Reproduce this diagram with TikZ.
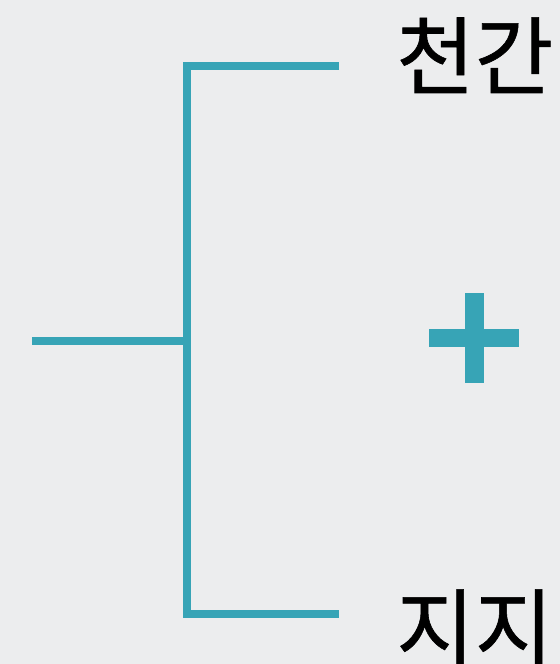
\documentclass[tikz,border=0pt]{standalone}
\usepackage{fontspec}
\newfontfamily\krfont[FakeBold=0.7]{Noto Sans CJK KR}
\definecolor{paper}{RGB}{236,237,238}
\definecolor{tealline}{RGB}{55,164,182}
\begin{document}
\begin{tikzpicture}[
    x=0.75pt, y=-0.75pt,
    bracket/.style={draw=tealline, line width=6pt, line join=miter, line cap=butt},
    lab/.style={inner sep=0pt, anchor=base west, font=\krfont\fontsize{64}{64}\selectfont, text=black}
]
\fill[paper] (0,0) rectangle (560,664);
\useasboundingbox (0,0) rectangle (560,664);
\clip (0,0) rectangle (560,664);

\coordinate (root) at (32,341);
\coordinate (fork) at (187,341);
\coordinate (topcorner) at (187,66);
\coordinate (botcorner) at (187,614);
\coordinate (topend) at (339,66);
\coordinate (botend) at (339,614);

\draw[bracket] (root) -- (fork);
\draw[bracket] (topend) -- (topcorner) -- (botcorner) -- (botend);

\node[lab] (cheongan) at (396,88) {천간};
\node[lab] (jiji) at (396,660) {지지};

% plus sign
\fill[tealline] (465,293) rectangle (484,383);
\fill[tealline] (429,329) rectangle (519,347);
\end{tikzpicture}
\end{document}
